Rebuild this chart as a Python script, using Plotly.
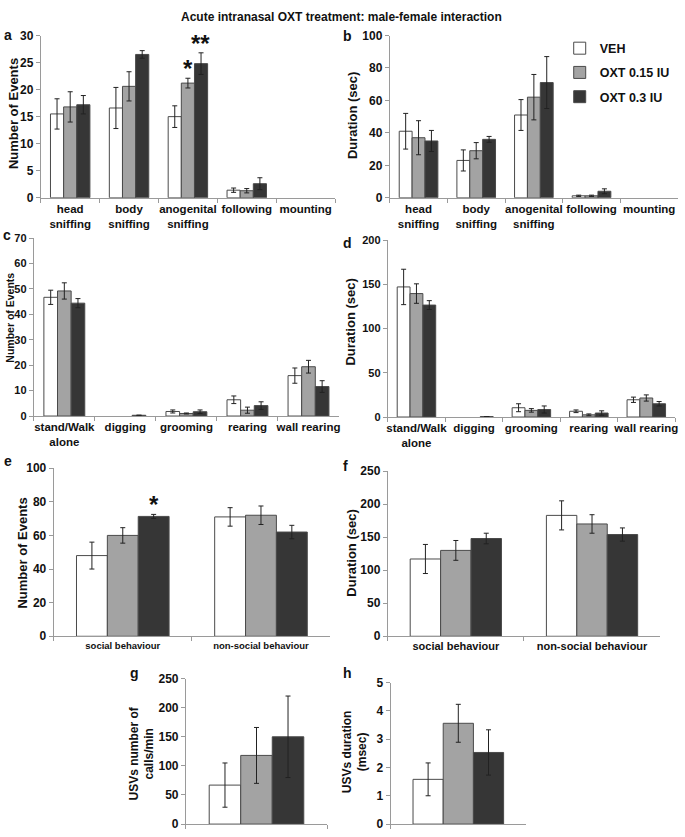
import plotly.graph_objects as go

# ---------------- data ----------------
groups = ["VEH", "OXT 0.15 IU", "OXT 0.3 IU"]

cats_ab = ["head<br>sniffing", "body<br>sniffing", "anogenital<br>sniffing", "following", "mounting"]
a_veh = [15.5, 16.6, 15.0, 1.4, 0]
a_veh_err = [2.8, 3.8, 2.0, 0.4, 0]
a_low = [16.8, 20.6, 21.2, 1.3, 0]
a_low_err = [2.8, 2.7, 0.9, 0.4, 0]
a_high = [17.2, 26.5, 24.8, 2.6, 0]
a_high_err = [1.7, 0.7, 2.0, 1.1, 0]

b_veh = [41, 23, 51, 1.2, 0]
b_veh_err = [11, 6.5, 9.5, 0.4, 0]
b_low = [37, 29, 62, 1.2, 0]
b_low_err = [10.5, 5, 14, 0.4, 0]
b_high = [35, 36, 71, 4, 0]
b_high_err = [6.5, 1.8, 16, 1.5, 0]

cats_cd = ["stand/Walk<br>alone", "digging", "grooming", "rearing", "wall rearing"]
c_veh = [46.7, 0, 1.8, 6.4, 15.9]
c_veh_err = [2.8, 0, 0.6, 1.5, 3.0]
c_low = [49.2, 0, 1.0, 2.3, 19.4]
c_low_err = [3.2, 0, 0.2, 1.2, 2.5]
c_high = [44.4, 0.3, 1.7, 4.1, 11.6]
c_high_err = [1.8, 0, 0.7, 1.5, 2.3]

d_veh = [147, 0, 10.5, 6.5, 19.5]
d_veh_err = [20, 0, 4.5, 1.5, 3.0]
d_low = [139.5, 0, 7.5, 2.5, 21.5]
d_low_err = [11, 0, 2, 1, 3.5]
d_high = [126.5, 0.5, 8.5, 4.5, 15]
d_high_err = [5, 0, 4, 2.5, 2.5]

cats_ef = ["social behaviour", "non-social behaviour"]
e_veh = [48, 71]
e_veh_err = [8, 5.5]
e_low = [60, 72]
e_low_err = [4.6, 5.5]
e_high = [71.3, 62]
e_high_err = [1.2, 4]

f_veh = [117, 183]
f_veh_err = [22, 22]
f_low = [130, 170]
f_low_err = [15, 14]
f_high = [148, 154]
f_high_err = [8, 10]

cats_gh = [""]
g_veh = [67]
g_veh_err = [38]
g_low = [118]
g_low_err = [48]
g_high = [150]
g_high_err = [70]

h_veh = [1.58]
h_veh_err = [0.58]
h_low = [3.56]
h_low_err = [0.67]
h_high = [2.53]
h_high_err = [0.8]

# ---------------- style ----------------
W, H = 685, 837
FONT = "Liberation Sans, Arial, sans-serif"
fills = ["#ffffff", "#a3a3a3", "#363636"]
AX = "#9a9a9a"
TXT = "#111111"


def px_x(a, b):
    return [a / W, b / W]


def px_y(top, bottom):
    return [1 - bottom / H, 1 - top / H]


panels = [
    # key, cats, series, errs, x-domain px, y-domain px, yrange, dtick, x tickfont, y tickfont
    ("a", cats_ab, [a_veh, a_low, a_high], [a_veh_err, a_low_err, a_high_err], (40, 336), (29, 194), 30, 5, 11.5, 12),
    ("b", cats_ab, [b_veh, b_low, b_high], [b_veh_err, b_low_err, b_high_err], (391, 681), (29, 194), 100, 20, 11.5, 12),
    ("c", cats_cd, [c_veh, c_low, c_high], [c_veh_err, c_low_err, c_high_err], (33, 340), (235, 416), 70, 10, 11.5, 11),
    ("d", cats_cd, [d_veh, d_low, d_high], [d_veh_err, d_low_err, d_high_err], (389, 678), (237, 417), 200, 50, 11.5, 11),
    ("e", cats_ef, [e_veh, e_low, e_high], [e_veh_err, e_low_err, e_high_err], (53, 331), (469, 640), 100, 20, 9.5, 12),
    ("f", cats_ef, [f_veh, f_low, f_high], [f_veh_err, f_low_err, f_high_err], (389, 663), (472, 640), 250, 50, 11, 12),
    ("g", cats_gh, [g_veh, g_low, g_high], [g_veh_err, g_low_err, g_high_err], (186, 328), (683, 831), 250, 50, 11, 12),
    ("h", cats_gh, [h_veh, h_low, h_high], [h_veh_err, h_low_err, h_high_err], (392, 528), (687, 831), 5, 1, 11, 12),
]

fig = go.Figure()
layout = {}
for i, (key, cats, series, errs, xd, yd, ymax, dtick, tfs, yfs) in enumerate(panels):
    n = "" if i == 0 else str(i + 1)
    xa, ya = "x" + n, "y" + n
    for j, (vals, err) in enumerate(zip(series, errs)):
        fig.add_trace(go.Bar(
            x=cats, y=[v if v > 0 else None for v in vals], name=groups[j], xaxis=xa, yaxis=ya,
            marker=dict(color=fills[j], line=dict(color="#4a4a4a", width=1)),
            error_y=dict(type="data", array=err, color="#222222", thickness=1, width=2.5,
                         visible=True),
            showlegend=(i == 1), legendgroup=groups[j],
        ))
    layout["xaxis" + n] = dict(
        domain=px_x(*xd), anchor=ya, type="category", showline=True, linecolor=AX, linewidth=1,
        ticks="outside", tickson="boundaries", ticklen=4, tickcolor=AX, tickangle=0,
        tickfont=dict(family=FONT, size=tfs, color=TXT, weight="bold"), showgrid=False,
        fixedrange=True,
    )
    layout["yaxis" + n] = dict(
        domain=px_y(*yd), anchor=xa, range=[0, ymax], dtick=dtick, showline=True, linecolor=AX,
        linewidth=1, ticks="outside", ticklen=4, tickcolor=AX, showgrid=False, zeroline=False,
        tickfont=dict(family=FONT, size=yfs, color=TXT, weight="bold"), fixedrange=True,
    )

fig.update_layout(**layout)
fig.update_layout(barmode="group", bargap=0.33, bargroupgap=0)

annotations = []
annotations.append(dict(text="<b>Acute intranasal OXT treatment: male-female interaction</b>",
                        x=343 / W, y=1 - 10 / H, xref="paper", yref="paper", showarrow=False,
                        xanchor="center", yanchor="middle",
                        font=dict(family=FONT, size=12, color=TXT)))
letters = [("a", 7, 28), ("b", 349, 29), ("c", 6, 232), ("d", 349, 240),
           ("e", 7, 462), ("f", 347, 467), ("g", 134, 677), ("h", 349, 677)]
for t, x, y in letters:
    annotations.append(dict(text="<b>%s</b>" % t, x=x / W, y=1 - y / H, xref="paper", yref="paper",
                            xanchor="center", yanchor="middle", showarrow=False,
                            font=dict(family=FONT, size=14, color=TXT)))
ytitles = [("Number of Events", 12, 108, 13), ("Duration (sec)", 353, 110, 13),
           ("Number of Events", 9, 316, 10.5), ("Duration (sec)", 352, 320, 13),
           ("Number of Events", 22, 555, 13), ("Duration (sec)", 353, 555, 13),
           ("USVs number of<br>calls/min", 142, 759, 12), ("USVs duration<br>(msec)", 356, 757, 12)]
for t, x, y, fs in ytitles:
    annotations.append(dict(text="<b>%s</b>" % t, x=x / W, y=1 - y / H, xref="paper", yref="paper",
                            xanchor="center", yanchor="middle", showarrow=False, textangle=-90,
                            font=dict(family=FONT, size=fs, color=TXT)))
stars = [("*", "x", "y", cats_ab[2], a_low[2] + a_low_err[2], 0),
         ("**", "x", "y", cats_ab[2], a_high[2] + a_high_err[2], 13),
         ("*", "x5", "y5", cats_ef[0], e_high[0] + e_high_err[0], 31)]
for t, xr, yr, cat, yv, sh in stars:
    annotations.append(dict(text="<b>%s</b>" % t, x=cat, y=yv, xref=xr, yref=yr, xshift=sh,
                            yanchor="bottom", yshift=-6, showarrow=False,
                            font=dict(family=FONT, size=24, color=TXT)))

fig.update_layout(
    width=W, height=H, margin=dict(l=0, r=0, t=0, b=0),
    paper_bgcolor="white", plot_bgcolor="white",
    annotations=annotations,
    legend=dict(x=562 / W, y=1 - 27 / H, xanchor="left", yanchor="top",
                font=dict(family=FONT, size=12.5, color=TXT, weight="bold"),
                bgcolor="rgba(0,0,0,0)", tracegroupgap=5),
    font=dict(family=FONT),
)

fig.write_html("out.html", config={"displayModeBar": False},
               post_script="document.body.style.margin='0';")
